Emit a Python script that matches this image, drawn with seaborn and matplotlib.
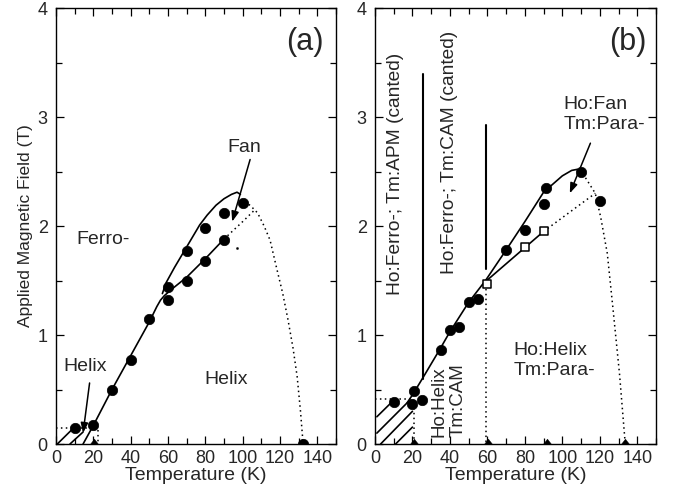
import matplotlib
matplotlib.use("Agg")
import matplotlib.pyplot as plt
import seaborn as sns
import numpy as np
from matplotlib.ticker import MultipleLocator

# ---------------- data : panel (a) ----------------
a_circ_x = [10, 20, 30, 40, 50, 60, 60, 70, 70, 80, 80, 90, 90, 100, 132.4]
a_circ_y = [0.15, 0.17, 0.50, 0.77, 1.15, 1.44, 1.32, 1.77, 1.50, 1.98, 1.68, 2.12, 1.87, 2.21, 0.0]
a_tri_x = [20.4]
a_tri_y = [0.0]
# main solid boundary (Helix / Ferro-, lower branch)
a_main_x = [14.5, 20, 30, 40, 50, 54, 56, 58, 62, 70, 80, 90]
a_main_y = [0.0, 0.17, 0.50, 0.81, 1.12, 1.26, 1.32, 1.36, 1.42, 1.53, 1.70, 1.88]
# upper solid branch (Ferro- / Fan)
a_up_x = [57, 59, 63.5, 68, 72.5, 77, 81, 85.7, 90, 94, 97, 98.8]
a_up_y = [1.38, 1.48, 1.62, 1.75, 1.88, 2.01, 2.10, 2.19, 2.25, 2.29, 2.31, 2.29]
# dotted extension of lower branch
a_dot1_x = [90, 100, 106]
a_dot1_y = [1.88, 2.04, 2.14]
# dotted Neel line
a_dot2_x = [101, 104, 108, 111.5, 114.7, 118.4, 121.5, 124.3, 127, 129.2, 131, 132.4]
a_dot2_y = [2.22, 2.19, 2.12, 2.00, 1.87, 1.60, 1.38, 1.14, 0.88, 0.62, 0.30, 0.0]
# low-field dotted box
a_box_x = [0, 22.5, 22.5]
a_box_y = [0.15, 0.15, 0.0]
# hatch lines
a_hatch = [([0.7, 9.0], [0.0, 0.14]), ([7.5, 14.5], [0.0, 0.11])]
a_lone_x = [97]
a_lone_y = [1.80]

# ---------------- data : panel (b) ----------------
b_circ_x = [10, 20.8, 20, 25, 35, 40, 45, 50, 55, 70, 80, 90, 91.5, 110, 120]
b_circ_y = [0.385, 0.49, 0.37, 0.40, 0.86, 1.05, 1.07, 1.30, 1.33, 1.78, 1.96, 2.20, 2.35, 2.50, 2.23]
b_sq_x = [60, 80, 90]
b_sq_y = [1.47, 1.81, 1.95]
b_tri_x = [20.8, 60.4, 92, 133.5]
b_tri_y = [0.0, 0.0, 0.0, 0.0]
b_main_x = [17, 20, 26, 35, 40, 50, 59, 70, 80, 90, 100, 105, 108, 111]
b_main_y = [0.375, 0.45, 0.62, 0.88, 1.03, 1.30, 1.50, 1.78, 2.04, 2.31, 2.46, 2.51, 2.52, 2.49]
b_low_x = [59, 90]
b_low_y = [1.49, 1.95]
b_dot1_x = [90, 117.6]
b_dot1_y = [1.95, 2.30]
b_dot2_x = [111, 117.6, 120.5, 124, 127, 130.5, 133.6]
b_dot2_y = [2.48, 2.30, 2.08, 1.75, 1.25, 0.65, 0.0]
b_vd1_x = [20.8, 20.8]
b_vd1_y = [0.38, 0.0]
b_vd2_x = [59.5, 59.5]
b_vd2_y = [1.47, 0.0]
b_hd_x = [0, 20.8]
b_hd_y = [0.41, 0.41]
b_v1_x = [25.8, 25.8]
b_v1_y = [0.60, 3.39]
b_v2_x = [59.3, 59.3]
b_v2_y = [1.61, 2.93]
b_hatch = [([1, 9], [0.25, 0.385]), ([1, 17], [0.10, 0.375]),
           ([3, 20], [0.0, 0.30]), ([11, 20], [0.0, 0.155])]

x_ticks = [0, 20, 40, 60, 80, 100, 120, 140]
y_ticks = [0, 1, 2, 3, 4]

# ---------------- style ----------------
sns.set_style("ticks")
plt.rcParams['font.family'] = ['Liberation Sans', 'DejaVu Sans']
plt.rcParams['axes.linewidth'] = 1.0

fig = plt.figure(figsize=(6.73, 4.91), dpi=100)
axa = fig.add_axes([0.0832, 0.0957, 0.4160, 0.888])
axb = fig.add_axes([0.5572, 0.0957, 0.4175, 0.888])

LW = 1.2
CS = 56
DOT = (1, 2.2)
TRI = [(-1.0, 0.0), (1.0, 0.0), (0.0, 1.3), (-1.0, 0.0)]  # triangle sitting on its point


def line(ax, x, y, dotted=False, lw=LW):
    l = sns.lineplot(x=x, y=y, ax=ax, color='k', sort=False, estimator=None,
                     linewidth=lw if not dotted else 1.1, legend=False)
    if dotted:
        l.lines[-1].set_linestyle((0, DOT))
    return l


def style(ax):
    ax.set_xlim(0, 150)
    ax.set_ylim(0, 4)
    ax.set_xticks(x_ticks)
    ax.set_yticks(y_ticks)
    ax.xaxis.set_minor_locator(MultipleLocator(10))
    ax.yaxis.set_minor_locator(MultipleLocator(0.5))
    ax.tick_params(which='both', direction='in', top=True, right=True,
                   labelsize=13, color='k', width=0.9)
    ax.tick_params(which='major', length=6)
    ax.tick_params(which='minor', length=4)
    ax.tick_params(axis='x', pad=4)
    ax.tick_params(axis='y', pad=6)
    for s in ax.spines.values():
        s.set_visible(True)
        s.set_color('k')
    ax.set_xlabel('Temperature (K)', fontsize=14, labelpad=0)


# ---------------- panel (a) ----------------
ax = axa
line(ax, a_main_x, a_main_y)
line(ax, a_up_x, a_up_y)
line(ax, a_dot1_x, a_dot1_y, dotted=True)
line(ax, a_dot2_x, a_dot2_y, dotted=True)
line(ax, a_box_x, a_box_y, dotted=True)
for hx, hy in a_hatch:
    line(ax, hx, hy)
sns.scatterplot(x=a_circ_x, y=a_circ_y, ax=ax, color='k', s=CS, edgecolor='k',
                linewidth=0.5, zorder=5, legend=False)
sns.scatterplot(x=a_tri_x, y=a_tri_y, ax=ax, color='k', marker=TRI, s=60,
                edgecolor='k', linewidth=0.3, zorder=5, legend=False)
sns.scatterplot(x=a_lone_x, y=a_lone_y, ax=ax, color='k', s=3, edgecolor='k',
                zorder=5, legend=False)
style(ax)
ax.set_ylabel('Applied Magnetic Field (T)', fontsize=12.5, labelpad=3)

arrow = dict(arrowstyle='-|>,head_length=0.6,head_width=0.22', color='k',
             lw=1.1, shrinkA=0, shrinkB=0)
ax.text(133.5, 3.69, '(a)', fontsize=22, ha='center', va='center')
ax.text(101, 2.72, 'Fan', fontsize=14, ha='center', va='center')
ax.annotate('', xy=(94.4, 2.04), xytext=(104, 2.61), arrowprops=arrow)
ax.text(11, 1.88, 'Ferro-', fontsize=14, ha='left', va='center')
ax.text(15.5, 0.71, 'Helix', fontsize=14, ha='center', va='center')
ax.annotate('', xy=(14.5, 0.10), xytext=(18, 0.56), arrowprops=arrow)
ax.text(91, 0.59, 'Helix', fontsize=14, ha='center', va='center')

# ---------------- panel (b) ----------------
ax = axb
line(ax, b_main_x, b_main_y)
line(ax, b_low_x, b_low_y)
line(ax, b_dot1_x, b_dot1_y, dotted=True)
line(ax, b_dot2_x, b_dot2_y, dotted=True)
line(ax, b_vd1_x, b_vd1_y, dotted=True)
line(ax, b_vd2_x, b_vd2_y, dotted=True)
line(ax, b_hd_x, b_hd_y, dotted=True)
line(ax, b_v1_x, b_v1_y, lw=1.5)
line(ax, b_v2_x, b_v2_y, lw=1.5)
for hx, hy in b_hatch:
    line(ax, hx, hy)
sns.scatterplot(x=b_circ_x, y=b_circ_y, ax=ax, color='k', s=CS, edgecolor='k',
                linewidth=0.5, zorder=5, legend=False)
sns.scatterplot(x=b_sq_x, y=b_sq_y, ax=ax, marker='s', s=36, facecolor='white',
                edgecolor='k', linewidth=1.1, zorder=6, legend=False)
sns.scatterplot(x=b_tri_x, y=b_tri_y, ax=ax, color='k', marker=TRI, s=60,
                edgecolor='k', linewidth=0.3, zorder=5, legend=False)
style(ax)
ax.set_ylabel('')

ax.text(135, 3.69, '(b)', fontsize=22, ha='center', va='center')
ax.text(11.2, 2.48, 'Ho:Ferro-; Tm:APM (canted)', fontsize=13.75, rotation=90,
        ha='center', va='center')
ax.text(40, 2.68, 'Ho:Ferro-; Tm:CAM (canted)', fontsize=13.75, rotation=90,
        ha='center', va='center')
ax.text(39.3, 0.06, 'Ho:Helix\nTm:CAM', fontsize=13.5, rotation=90,
        ha='center', va='bottom', multialignment='left', linespacing=1.2)
ax.text(100.5, 3.02, 'Ho:Fan\nTm:Para-', fontsize=14, ha='left', va='center',
        linespacing=1.25)
ax.annotate('', xy=(104, 2.30), xytext=(115, 2.76), arrowprops=arrow)
ax.text(73.8, 0.765, 'Ho:Helix\nTm:Para-', fontsize=14, ha='left', va='center',
        linespacing=1.28)

fig.savefig('out.png', dpi=100)
